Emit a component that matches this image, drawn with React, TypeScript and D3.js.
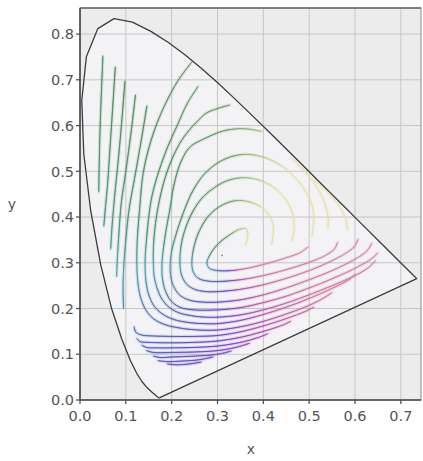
import { useEffect, useRef } from 'react'
import * as d3 from 'd3'

type Pt = [number, number]

const xTicks = [0, 0.1, 0.2, 0.3, 0.4, 0.5, 0.6, 0.7]
const yTicks = [0, 0.1, 0.2, 0.3, 0.4, 0.5, 0.6, 0.7, 0.8]

// spectral locus (CIE 1931 2deg), closed by the purple line
const locus: Pt[] = [
  [0.1741, 0.005], [0.1726, 0.0048], [0.1714, 0.0051], [0.1689, 0.0069], [0.1644, 0.0109],
  [0.1566, 0.0177], [0.144, 0.0297], [0.1355, 0.0399], [0.1241, 0.0578], [0.1096, 0.0868],
  [0.0913, 0.1327], [0.0687, 0.2007], [0.0454, 0.295], [0.0235, 0.4127], [0.0082, 0.5384],
  [0.0039, 0.6548], [0.0139, 0.7502], [0.0389, 0.812], [0.0743, 0.8338], [0.1142, 0.8262],
  [0.1547, 0.8059], [0.1929, 0.7816], [0.2296, 0.7543], [0.2658, 0.7243], [0.3016, 0.6923],
  [0.3373, 0.6589], [0.3731, 0.6245], [0.4087, 0.5896], [0.4441, 0.5547], [0.4788, 0.5202],
  [0.5125, 0.4866], [0.5448, 0.4544], [0.5752, 0.4242], [0.6029, 0.3965], [0.627, 0.3725],
  [0.6658, 0.334], [0.6915, 0.3083], [0.7079, 0.292], [0.719, 0.2809], [0.726, 0.274],
  [0.7347, 0.2653],
]

// contour curves
const ring1: Pt[] = [[0.361, 0.338], [0.366, 0.358], [0.363, 0.374], [0.348, 0.373], [0.325, 0.36], [0.302, 0.342], [0.285, 0.32], [0.277, 0.3], [0.282, 0.288], [0.3, 0.283], [0.33, 0.283], [0.37, 0.289], [0.41, 0.299], [0.45, 0.311], [0.48, 0.322], [0.498, 0.335]]
const ring2: Pt[] = [[0.418, 0.34], [0.422, 0.37], [0.417, 0.396], [0.4, 0.418], [0.373, 0.432], [0.342, 0.436], [0.31, 0.426], [0.282, 0.404], [0.262, 0.373], [0.25, 0.34], [0.244, 0.3], [0.248, 0.278], [0.26, 0.265], [0.28, 0.26], [0.3, 0.259], [0.35, 0.263], [0.4, 0.272], [0.45, 0.285], [0.5, 0.301], [0.535, 0.316], [0.555, 0.33], [0.562, 0.345]]
const ring3: Pt[] = [[0.462, 0.346], [0.467, 0.378], [0.463, 0.41], [0.448, 0.44], [0.422, 0.465], [0.39, 0.481], [0.355, 0.486], [0.32, 0.479], [0.29, 0.462], [0.265, 0.44], [0.245, 0.41], [0.23, 0.375], [0.221, 0.34], [0.218, 0.3], [0.222, 0.272], [0.233, 0.253], [0.25, 0.242], [0.275, 0.237], [0.3, 0.237], [0.35, 0.242], [0.4, 0.252], [0.45, 0.266], [0.5, 0.283], [0.54, 0.3], [0.575, 0.318], [0.598, 0.335], [0.607, 0.352]]
const ring4: Pt[] = [[0.506, 0.358], [0.51, 0.395], [0.505, 0.43], [0.49, 0.46], [0.465, 0.49], [0.435, 0.515], [0.4, 0.531], [0.365, 0.537], [0.33, 0.532], [0.297, 0.516], [0.268, 0.49], [0.245, 0.455], [0.228, 0.416], [0.212, 0.37], [0.201, 0.33], [0.197, 0.3], [0.198, 0.27], [0.205, 0.247], [0.218, 0.229], [0.24, 0.218], [0.27, 0.214], [0.3, 0.214], [0.35, 0.219], [0.4, 0.23], [0.45, 0.245], [0.5, 0.263], [0.55, 0.283], [0.595, 0.305], [0.625, 0.325], [0.637, 0.343]]
const ring5: Pt[] = [[0.397, 0.587], [0.37, 0.592], [0.345, 0.593], [0.312, 0.588], [0.275, 0.573], [0.24, 0.553], [0.22, 0.52], [0.205, 0.47], [0.196, 0.416], [0.186, 0.36], [0.179, 0.3], [0.18, 0.265], [0.187, 0.237], [0.2, 0.215], [0.22, 0.202], [0.25, 0.197], [0.3, 0.197], [0.35, 0.202], [0.4, 0.213], [0.45, 0.227], [0.5, 0.245], [0.55, 0.265], [0.6, 0.288], [0.635, 0.308], [0.65, 0.322]]
const ring5Right: Pt[] = [[0.462, 0.528], [0.49, 0.5], [0.515, 0.468], [0.532, 0.435], [0.541, 0.4], [0.541, 0.375]]
const ring6: Pt[] = [[0.327, 0.645], [0.277, 0.628], [0.255, 0.608], [0.24, 0.592], [0.22, 0.565], [0.2, 0.525], [0.184, 0.48], [0.172, 0.43], [0.164, 0.38], [0.16, 0.33], [0.16, 0.3], [0.162, 0.27], [0.168, 0.245], [0.178, 0.222], [0.193, 0.204], [0.215, 0.191], [0.245, 0.184], [0.275, 0.181], [0.3, 0.181], [0.35, 0.186], [0.4, 0.197], [0.45, 0.212], [0.5, 0.23], [0.55, 0.25], [0.6, 0.272], [0.63, 0.29], [0.645, 0.305]]
const ring6Right: Pt[] = [[0.51, 0.482], [0.54, 0.455], [0.565, 0.425], [0.58, 0.395], [0.583, 0.37]]
const ring7: Pt[] = [[0.258, 0.686], [0.235, 0.65], [0.212, 0.6], [0.19, 0.55], [0.172, 0.5], [0.158, 0.45], [0.152, 0.416], [0.145, 0.35], [0.142, 0.3], [0.144, 0.26], [0.15, 0.23], [0.162, 0.205], [0.18, 0.188], [0.205, 0.176], [0.24, 0.169], [0.27, 0.167], [0.3, 0.167], [0.35, 0.174], [0.4, 0.187], [0.45, 0.203], [0.5, 0.222], [0.55, 0.244], [0.585, 0.262], [0.6, 0.275]]
const ring8: Pt[] = [[0.244, 0.739], [0.215, 0.7], [0.19, 0.655], [0.168, 0.605], [0.15, 0.55], [0.137, 0.49], [0.13, 0.416], [0.125, 0.35], [0.124, 0.3], [0.126, 0.26], [0.132, 0.225], [0.143, 0.198], [0.16, 0.178], [0.185, 0.165], [0.22, 0.157], [0.26, 0.153], [0.3, 0.153], [0.35, 0.16], [0.4, 0.172], [0.45, 0.188], [0.5, 0.207], [0.53, 0.222], [0.55, 0.235]]

// outer loops: left (green) parts
const left1: Pt[] = [[0.05, 0.752], [0.047, 0.68], [0.044, 0.6], [0.042, 0.52], [0.041, 0.455]]
const left2: Pt[] = [[0.077, 0.728], [0.072, 0.65], [0.066, 0.56], [0.06, 0.47], [0.055, 0.416], [0.052, 0.38]]
const left3: Pt[] = [[0.098, 0.697], [0.092, 0.62], [0.084, 0.53], [0.076, 0.45], [0.07, 0.38], [0.067, 0.33]]
const left4: Pt[] = [[0.121, 0.667], [0.112, 0.59], [0.1, 0.5], [0.09, 0.43], [0.084, 0.35], [0.081, 0.3], [0.08, 0.27]]
const left5: Pt[] = [[0.146, 0.643], [0.134, 0.57], [0.12, 0.49], [0.107, 0.416], [0.1, 0.35], [0.096, 0.3], [0.094, 0.25], [0.095, 0.2]]

// outer loops: bottom (violet / pink) parts
const bottom5: Pt[] = [[0.118, 0.16], [0.122, 0.148], [0.135, 0.142], [0.16, 0.14], [0.2, 0.139], [0.25, 0.139], [0.3, 0.141], [0.35, 0.149], [0.4, 0.162], [0.45, 0.178], [0.49, 0.193], [0.51, 0.203]]
const bottom4: Pt[] = [[0.124, 0.135], [0.13, 0.128], [0.15, 0.126], [0.2, 0.125], [0.25, 0.126], [0.3, 0.129], [0.35, 0.137], [0.4, 0.15], [0.44, 0.163], [0.46, 0.172]]
const bottom3: Pt[] = [[0.135, 0.12], [0.145, 0.115], [0.17, 0.114], [0.2, 0.114], [0.25, 0.115], [0.3, 0.118], [0.35, 0.126], [0.39, 0.137], [0.41, 0.145]]
const bottom2: Pt[] = [[0.145, 0.108], [0.16, 0.104], [0.2, 0.104], [0.25, 0.105], [0.3, 0.108], [0.34, 0.115], [0.37, 0.124]]
const bottom1: Pt[] = [[0.16, 0.096], [0.175, 0.093], [0.2, 0.094], [0.25, 0.096], [0.3, 0.1], [0.33, 0.107]]
const bottom0: Pt[] = [[0.17, 0.086], [0.19, 0.084], [0.22, 0.085], [0.26, 0.088], [0.29, 0.094]]
const bottomX: Pt[] = [[0.19, 0.079], [0.21, 0.077], [0.24, 0.079], [0.265, 0.083]]

const curves = [
  ring1, ring2, ring3, ring4, ring5, ring5Right, ring6, ring6Right, ring7, ring8,
  left1, left2, left3, left4, left5,
  bottom5, bottom4, bottom3, bottom2, bottom1, bottom0, bottomX,
]

const whitePoint: Pt = [0.31, 0.316]

// hue around the white area, angle measured from the gap on the right
const hueStops: [number, string][] = [
  [0, '#eadfa8'], [45, '#e6e2a2'], [62, '#b2c68c'], [78, '#6f9c66'], [110, '#4f8c5a'],
  [150, '#47957a'], [172, '#4fa2b0'], [195, '#5478b4'], [222, '#5a56c0'], [245, '#7048c8'],
  [268, '#9a48bc'], [295, '#c058aa'], [325, '#d0709a'], [360, '#d888a6'],
]

function colorAt(px: number, py: number) {
  let a = (Math.atan2(py - 0.30, px - 0.33) * 180) / Math.PI
  a = (((a - 13) % 360) + 360) % 360
  let i = 1
  while (i < hueStops.length - 1 && hueStops[i][0] < a) i++
  const [a0, c0] = hueStops[i - 1]
  const [a1, c1] = hueStops[i]
  return d3.interpolateRgb(c0, c1)((a - a0) / (a1 - a0))
}

export default function App() {
  const ref = useRef<SVGSVGElement>(null)

  useEffect(() => {
    if (!ref.current) return
    const svg = d3.select(ref.current)
    svg.selectAll('*').remove()

    const left = 80, right = 421, top = 8, bottom = 400
    const x = d3.scaleLinear().domain([0, 0.744]).range([left, right])
    const y = d3.scaleLinear().domain([0, 0.857]).range([bottom, top])
    const font = 'DejaVu Sans, Verdana, sans-serif'

    // plot background
    svg.append('rect')
      .attr('x', left).attr('y', top).attr('width', right - left).attr('height', bottom - top)
      .attr('fill', '#ececec')

    const straight = d3.line<Pt>().x(d => x(d[0])).y(d => y(d[1]))
    svg.append('path').attr('d', straight(locus) + 'Z').attr('fill', '#f3f3f6')

    // grid
    svg.append('g').selectAll('line').data(xTicks.slice(1)).join('line')
      .attr('x1', d => x(d)).attr('x2', d => x(d)).attr('y1', top).attr('y2', bottom)
      .attr('stroke', '#c6c6c6').attr('stroke-width', 1)
    svg.append('g').selectAll('line').data(yTicks.slice(1)).join('line')
      .attr('x1', left).attr('x2', right).attr('y1', d => y(d)).attr('y2', d => y(d))
      .attr('stroke', '#c6c6c6').attr('stroke-width', 1)

    // contours, coloured along their length
    const smooth = d3.line<Pt>().x(d => x(d[0])).y(d => y(d[1])).curve(d3.curveCatmullRom.alpha(0.5))
    const halo = svg.append('g').attr('stroke-linecap', 'round')
    const core = svg.append('g').attr('stroke-linecap', 'round')
    curves.forEach(c => {
      const tmp = svg.append('path').attr('d', smooth(c) as string).attr('fill', 'none')
      const node = tmp.node() as SVGPathElement
      const len = node.getTotalLength()
      const n = Math.max(2, Math.ceil(len / 2))
      const pts = d3.range(n + 1).map(i => node.getPointAtLength((len * i) / n))
      tmp.remove()
      for (let i = 0; i < n; i++) {
        const p = pts[i], q = pts[i + 1]
        const col = colorAt(x.invert((p.x + q.x) / 2), y.invert((p.y + q.y) / 2))
        halo.append('line')
          .attr('x1', p.x).attr('y1', p.y).attr('x2', q.x).attr('y2', q.y)
          .attr('stroke', col).attr('stroke-width', 3.5).attr('stroke-opacity', 0.09)
        core.append('line')
          .attr('x1', p.x).attr('y1', p.y).attr('x2', q.x).attr('y2', q.y)
          .attr('stroke', col).attr('stroke-width', 1)
      }
    })

    svg.append('circle')
      .attr('cx', x(whitePoint[0])).attr('cy', y(whitePoint[1])).attr('r', 0.9)
      .attr('fill', '#8a8a9a')

    // spectral locus outline
    svg.append('path').attr('d', straight(locus) + 'Z')
      .attr('fill', 'none').attr('stroke', '#3c3c3c').attr('stroke-width', 1.3)
      .attr('stroke-linejoin', 'round')

    // frame
    svg.append('rect')
      .attr('x', left).attr('y', top).attr('width', right - left).attr('height', bottom - top)
      .attr('fill', 'none').attr('stroke', '#8c8c8c').attr('stroke-width', 1)
    svg.append('line').attr('x1', left).attr('x2', right).attr('y1', top).attr('y2', top)
      .attr('stroke', '#6a6a6a').attr('stroke-width', 1.5)
    svg.append('line').attr('x1', left).attr('x2', left).attr('y1', top).attr('y2', bottom)
      .attr('stroke', '#4a4a4a').attr('stroke-width', 1.6)
    svg.append('line').attr('x1', left).attr('x2', right).attr('y1', bottom).attr('y2', bottom)
      .attr('stroke', '#4a4a4a').attr('stroke-width', 1.6)

    // ticks and labels
    const yAxis = svg.append('g')
    yAxis.selectAll('line').data(yTicks).join('line')
      .attr('x1', left - 4).attr('x2', left).attr('y1', d => y(d)).attr('y2', d => y(d))
      .attr('stroke', '#4a4a4a').attr('stroke-width', 1.2)
    yAxis.selectAll('text').data(yTicks).join('text')
      .attr('x', left - 6).attr('y', d => y(d)).attr('dy', '0.36em')
      .attr('text-anchor', 'end').attr('font-family', font).attr('font-size', 14.5)
      .attr('fill', '#555').text(d => d.toFixed(1))

    const xAxis = svg.append('g')
    xAxis.selectAll('line').data(xTicks).join('line')
      .attr('x1', d => x(d)).attr('x2', d => x(d)).attr('y1', bottom).attr('y2', bottom + 4)
      .attr('stroke', '#4a4a4a').attr('stroke-width', 1.2)
    xAxis.selectAll('text').data(xTicks).join('text')
      .attr('x', d => x(d)).attr('y', bottom + 21)
      .attr('text-anchor', 'middle').attr('font-family', font).attr('font-size', 14.5)
      .attr('fill', '#555').text(d => d.toFixed(1))

    svg.append('text').attr('x', 12).attr('y', 209).attr('text-anchor', 'middle')
      .attr('font-family', font).attr('font-size', 14).attr('fill', '#555').text('y')
    svg.append('text').attr('x', 251).attr('y', 454).attr('text-anchor', 'middle')
      .attr('font-family', font).attr('font-size', 14).attr('fill', '#555').text('x')
  }, [])

  return (
    <svg ref={ref} width={423} height={461}
      style={{ position: 'absolute', left: 0, top: 0, background: '#fff' }} />
  )
}
